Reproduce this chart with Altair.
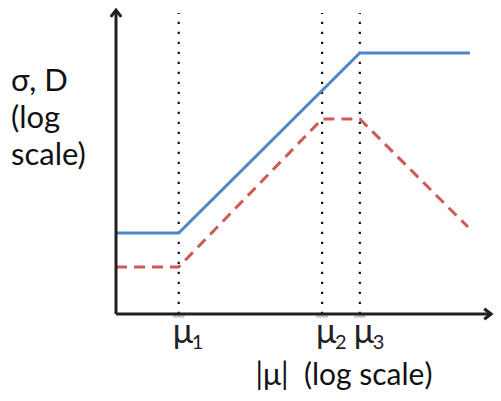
import altair as alt
import pandas as pd

# conceptual (log-log) coordinates
mu_x = [0.98, 3.22, 3.81]
mu_sub = ["1", "2", "3"]

sigma_x = [0.0, 0.98, 3.81, 5.53]
sigma_y = [2.7, 2.7, 8.7, 8.7]

d_x = [0.0, 0.98, 3.22, 3.81, 5.5]
d_y = [1.57, 1.57, 6.5, 6.5, 2.9]

x_axis_end = 5.86
y_axis_end = 10.13
dotted_top = 10.03

y_title = ["σ, D", "(log", "scale)"]
x_title = "|μ|\u00a0 (log scale)"

FONT = "Lato"
AX = "#231f20"

xs = alt.Scale(domain=[-1.6875, 5.8906], nice=False, zero=False)
ys = alt.Scale(domain=[-2.6333, 10.2], nice=False, zero=False)


def X(f="x"):
    return alt.X(f, type="quantitative", scale=xs, axis=None)


def Y(f="y"):
    return alt.Y(f, type="quantitative", scale=ys, axis=None)


# axes
axes_df = pd.DataFrame({
    "x": [0.0, 0.0], "y": [0.0, 0.0],
    "x2": [0.0, x_axis_end], "y2": [y_axis_end, 0.0],
})
axes = alt.Chart(axes_df).mark_rule(color=AX, strokeWidth=3).encode(
    x=X(), y=Y(), x2="x2:Q", y2="y2:Q"
)

up = alt.Chart(pd.DataFrame({"x": [0.0], "y": [y_axis_end]})).mark_point(
    shape="M-1,1.3L0,0L1,1.3", filled=False, stroke=AX, strokeWidth=3,
    size=110, opacity=1, strokeJoin="miter"
).encode(x=X(), y=Y())

right = alt.Chart(pd.DataFrame({"x": [x_axis_end], "y": [0.0]})).mark_point(
    shape="M-1.3,-1L0,0L-1.3,1", filled=False, stroke=AX, strokeWidth=3,
    size=110, opacity=1, strokeJoin="miter"
).encode(x=X(), y=Y())

# dotted verticals
dot_df = pd.DataFrame({"x": mu_x, "y": [0.0] * 3, "y2": [dotted_top] * 3})
dots = alt.Chart(dot_df).mark_rule(
    color="#111111", strokeWidth=2.2, strokeDash=[2.2, 7.8]
).encode(x=X(), y=Y(), y2="y2:Q")

# small gray ticks under axis
tick_df = pd.DataFrame({"x": [v - 0.09 for v in mu_x], "x2": [v + 0.09 for v in mu_x],
                        "y": [-0.08] * 3})
ticks = alt.Chart(tick_df).mark_rule(color="#c4c4c4", strokeWidth=2.5).encode(
    x=X(), x2="x2:Q", y=Y()
)

sigma = alt.Chart(pd.DataFrame({"x": sigma_x, "y": sigma_y, "o": range(4)})).mark_line(
    color="#4F86C6", strokeWidth=3
).encode(x=X(), y=Y(), order="o:Q")

dline = alt.Chart(pd.DataFrame({"x": d_x, "y": d_y, "o": range(5)})).mark_line(
    color="#CC5A55", strokeWidth=3, strokeDash=[11, 7]
).encode(x=X(), y=Y(), order="o:Q")

lab_df = pd.DataFrame({"x": mu_x, "s": mu_sub})
mu_main = alt.Chart(lab_df).mark_text(
    text="μ", font=FONT, fontSize=34, align="left", baseline="alphabetic",
    dx=-6, color="#222222"
).encode(x=X(), y=alt.value(335))
mu_subs = alt.Chart(lab_df).mark_text(
    font=FONT, fontSize=20, align="left", baseline="alphabetic",
    dx=13, color="#222222"
).encode(x=X(), y=alt.value(341), text="s:N")

one = pd.DataFrame({"a": [0]})
ytitle = alt.Chart(one).mark_text(
    text=y_title, font=FONT, fontSize=31, align="left", baseline="alphabetic",
    lineHeight=37, color="#111111"
).encode(x=alt.value(3), y=alt.value(83))

xtitle = alt.Chart(one).mark_text(
    text=x_title, font=FONT, fontSize=30, align="center", baseline="alphabetic",
    color="#111111"
).encode(x=alt.value(336), y=alt.value(377))

chart = alt.layer(
    dots, ticks, sigma, dline, axes, up, right, mu_main, mu_subs, ytitle, xtitle
).properties(
    width=485, height=385, padding=0, autosize=alt.AutoSizeParams(type="none"),
    background="white"
).configure_view(stroke=None)

chart.save("out.html", embed_options={"renderer": "svg", "actions": False})
